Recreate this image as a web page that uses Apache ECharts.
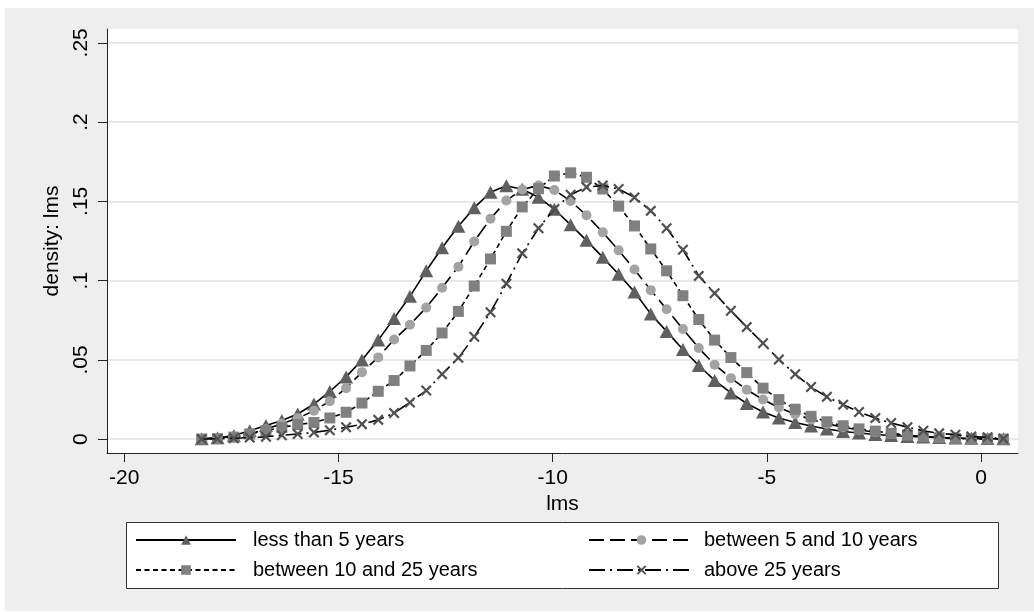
<!DOCTYPE html>
<html><head><meta charset="utf-8">
<script src="https://cdn.jsdelivr.net/npm/echarts@6/dist/echarts.min.js"></script>
<style>html,body{margin:0;padding:0;background:#fff;}#c{position:absolute;left:5px;top:8px;width:1029px;height:603px;background:#eeeeee;}</style>
</head><body><div id="c"></div>
<script>
const xValues = [-18.19,-17.82,-17.44,-17.07,-16.69,-16.32,-15.95,-15.57,-15.20,-14.82,-14.45,-14.07,-13.70,-13.33,-12.95,-12.58,-12.20,-11.83,-11.45,-11.08,-10.71,-10.33,-9.96,-9.58,-9.21,-8.83,-8.46,-8.09,-7.71,-7.34,-6.96,-6.59,-6.22,-5.84,-5.47,-5.09,-4.72,-4.34,-3.97,-3.60,-3.22,-2.85,-2.47,-2.10,-1.72,-1.35,-0.98,-0.60,-0.23,0.15,0.52];
const lessThan5 = [0.0003,0.0009,0.0023,0.0054,0.0087,0.0118,0.0159,0.0222,0.0301,0.0393,0.0500,0.0626,0.0762,0.0901,0.1062,0.1207,0.1343,0.1460,0.1557,0.1598,0.1576,0.1526,0.1450,0.1352,0.1254,0.1147,0.1040,0.0929,0.0790,0.0680,0.0566,0.0465,0.0371,0.0292,0.0225,0.0172,0.0134,0.0105,0.0083,0.0064,0.0049,0.0039,0.0030,0.0023,0.0017,0.0014,0.0011,0.0008,0.0006,0.0004,0.0003];
const between5and10 = [0.0002,0.0008,0.0017,0.0035,0.0062,0.0099,0.0132,0.0180,0.0240,0.0322,0.0423,0.0516,0.0629,0.0722,0.0830,0.0955,0.1088,0.1247,0.1390,0.1505,0.1575,0.1600,0.1572,0.1502,0.1412,0.1305,0.1191,0.1070,0.0940,0.0820,0.0695,0.0575,0.0470,0.0385,0.0312,0.0250,0.0200,0.0158,0.0125,0.0098,0.0076,0.0058,0.0044,0.0033,0.0024,0.0017,0.0012,0.0008,0.0005,0.0003,0.0002];
const between10and25 = [0.0001,0.0003,0.0013,0.0033,0.0054,0.0074,0.0092,0.0105,0.0134,0.0170,0.0228,0.0302,0.0370,0.0462,0.0560,0.0670,0.0806,0.0966,0.1137,0.1311,0.1465,0.1580,0.1660,0.1680,0.1652,0.1578,0.1470,0.1345,0.1200,0.1062,0.0905,0.0755,0.0625,0.0515,0.0420,0.0322,0.0250,0.0189,0.0144,0.0110,0.0085,0.0065,0.0051,0.0037,0.0026,0.0016,0.0009,0.0004,0.0002,0.0001,0.0000];
const above25 = [0.0001,0.0003,0.0006,0.0010,0.0015,0.0025,0.0033,0.0043,0.0057,0.0075,0.0095,0.0122,0.0165,0.0232,0.0307,0.0410,0.0513,0.0646,0.0801,0.0981,0.1172,0.1330,0.1452,0.1542,0.1590,0.1600,0.1578,0.1525,0.1440,0.1330,0.1195,0.1030,0.0920,0.0810,0.0707,0.0605,0.0503,0.0410,0.0329,0.0267,0.0218,0.0172,0.0133,0.0102,0.0076,0.0053,0.0037,0.0028,0.0017,0.0012,0.0003];
const seriesNames = ['less than 5 years','between 5 and 10 years','between 10 and 25 years','above 25 years'];
const xTicks = [-20,-15,-10,-5,0];
const yTicks = [0,0.05,0.1,0.15,0.2,0.25];
const yTickLabels = ['0','.05','.1','.15','.2','.25'];

const FONT = 'Liberation Sans, Arial, sans-serif';
const xSymbol = 'path://M0,1.4 L1.4,0 L5,3.6 L8.6,0 L10,1.4 L6.4,5 L10,8.6 L8.6,10 L5,6.4 L1.4,10 L0,8.6 L3.6,5 Z';
const allValues = [lessThan5, between5and10, between10and25, above25];
const styles = [
  {symbol:'triangle', size:[14,13], color:'#606060', dash:'solid'},
  {symbol:'circle', size:10, color:'#a3a3a3', dash:[15,6]},
  {symbol:'rect', size:11, color:'#808080', dash:[5,3.5]},
  {symbol:xSymbol, size:11, color:'#505050', dash:[16,5,2,5]}
];
const series = allValues.map((vals, k) => ({
  name: seriesNames[k], type:'line', z: 10 + k,
  data: xValues.map((x, i) => [x, vals[i]]),
  showSymbol:true, showAllSymbol:true,
  symbol: styles[k].symbol, symbolSize: styles[k].size,
  itemStyle:{color: styles[k].color, borderWidth:0},
  lineStyle:{color:'#000', width:1.6, type: styles[k].dash}
}));
const legendPos = [[130,521,100,12],[583,521,105,5],[130,551,100,12],[583,551,105,5]];
const legends = seriesNames.map((n, k) => ({
  data:[n], left: legendPos[k][0], top: legendPos[k][1], padding:0,
  itemWidth: legendPos[k][2], itemHeight:12, selectedMode:false,
  textStyle:{fontFamily:FONT, fontSize:20, color:'#000', lineHeight:22, padding:[0,0,0,legendPos[k][3]]}
}));
const chart = echarts.init(document.getElementById('c'), null, {renderer:'canvas'});
chart.setOption({
  animation:false,
  backgroundColor:'#eeeeee',
  grid:{left:102, top:21, width:911, height:424, show:true, backgroundColor:'#ffffff', borderWidth:0, containLabel:false, outerBoundsMode:'none'},
  legend: legends,
  graphic:[{type:'rect', left:121, top:514, shape:{width:872, height:66}, style:{fill:'#ffffff', stroke:'#333333', lineWidth:1}, z:-1, silent:true}],
  xAxis:{
    type:'value', min:-20.40, max:0.86,
    name:'lms', nameLocation:'middle', nameGap:34,
    nameTextStyle:{fontFamily:FONT, fontSize:21, color:'#000'},
    axisLine:{show:true, onZero:false, lineStyle:{color:'#222', width:1}},
    axisTick:{show:true, length:9, customValues:xTicks, lineStyle:{color:'#222', width:1}},
    axisLabel:{customValues:xTicks, margin:15, fontFamily:FONT, fontSize:21, color:'#000'},
    splitLine:{show:false}
  },
  yAxis:{
    type:'value', min:-0.0087, max:0.2587,
    name:'density: lms', nameLocation:'middle', nameGap:44,
    nameTextStyle:{fontFamily:FONT, fontSize:21, color:'#000'},
    axisLine:{show:true, onZero:false, lineStyle:{color:'#222', width:1}},
    axisTick:{show:true, length:9, customValues:yTicks, lineStyle:{color:'#222', width:1}},
    axisLabel:{customValues:yTicks, rotate:90, margin:15, fontFamily:FONT, fontSize:21, color:'#000',
      formatter: v => { const i = yTicks.findIndex(t => Math.abs(t - v) < 1e-9); return i >= 0 ? yTickLabels[i] : ''; }},
    splitLine:{show:true, lineStyle:{color:'#e2e2e2', width:1.5, type:'solid'}}
  },
  series: series
});
</script></body></html>
